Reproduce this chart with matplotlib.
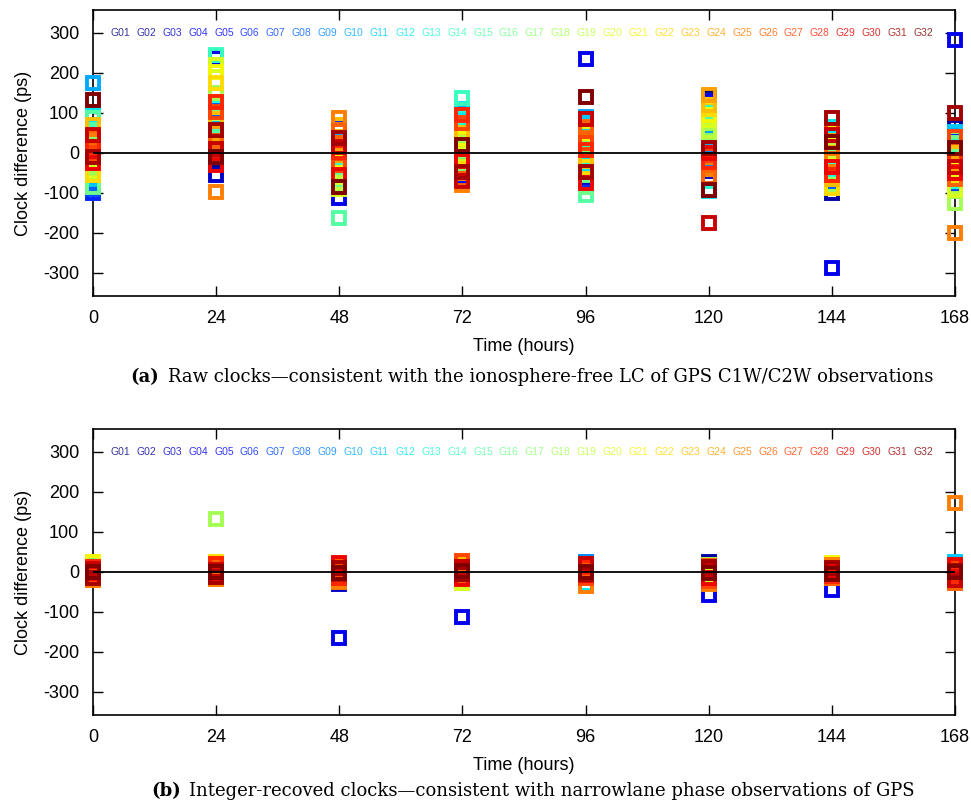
import matplotlib
matplotlib.use('Agg')
import matplotlib.pyplot as plt
import numpy as np

hours = [0, 24, 48, 72, 96, 120, 144, 168]
sats = [f'G{i+1:02d}' for i in range(32)]

# raw clock differences (ps), one list per epoch, G01..G32
raw_000 = [30, -40, 10, -60, 20, -100, -90, -75, 60, 175, -65, 97, -20, 55, 88, -85,
           25, -35, -15, -45, 5, -55, 70, -5, 30, 40, 0, 15, -25, 45, -10, 133]
raw_024 = [-20, 80, -55, 238, 10, 60, -10, 110, 30, 22, 90, 70, 115, 245, 40, 120,
           -5, 150, 100, 220, 203, 175, 85, 50, -97, 30, 103, 128, -30, 10, 58, -10]
raw_048 = [-20, 40, -40, -112, 10, 60, -50, 20, -10, 30, -60, -80, 15, -40, -163, -70,
           5, 40, -75, -90, -20, 20, 70, -5, 88, 55, -30, 2, -55, 15, 37, -85]
raw_072 = [-30, 5, 60, 30, -60, 85, -50, 70, 15, 100, 55, 110, 90, 137, -10, 40,
           -25, 10, 25, -5, 35, -40, 50, -17, -80, -65, 75, 95, -20, -70, -47, 20]
raw_096 = [-55, 20, -60, 235, -30, -70, 60, -40, 10, 90, 75, -25, -10, 30, -105, -85,
           15, -5, 25, -17, 50, -35, -20, 55, 37, 65, 25, 7, -75, 85, -47, 140]
raw_120 = [140, 110, -45, 130, 70, -30, 20, 90, -15, 40, -60, -95, -70, 100, 75, 60,
           30, 45, 55, 83, 95, 110, 120, 145, -40, -60, -5, -22, 0, -175, 12, -92]
raw_144 = [-60, -100, -40, -288, 10, -20, 40, -70, 0, 20, -30, 65, -45, -10, -25, -5,
           -50, -80, 5, -30, 50, -87, -65, 30, -17, 15, 57, -55, -35, 45, 87, 27]
raw_168 = [-30, 65, 20, 282, -60, 30, -80, 5, -40, 45, 53, -20, -70, 15, -10, 25,
           37, -125, -85, -92, -40, -55, 0, -25, -200, -65, 40, -17, -50, -35, 100, 12]

# integer-recovered clock differences (ps)
int_000 = [5, -10, 8, -6, 12, -15, 3, -8, 10, -12, 6, -4, 15, -18, 9, -2,
           14, -9, 4, -14, 25, 11, -7, 2, -20, 7, -11, 13, -3, 8, -16, 0]
int_024 = [-6, 9, -12, 4, 15, -3, 10, -15, 6, -8, 12, -5, 3, -10, 18, 7,
           -14, 133, 2, -7, 11, 24, -4, 8, -18, 14, -9, 20, -2, 5, -12, 0]
int_048 = [10, -8, -30, -165, 6, 14, -5, 9, -12, 3, 16, -10, 7, -3, 12, -15,
           4, 8, -6, 11, -9, 2, 13, -20, -25, 18, 5, -14, 22, -4, 10, -2]
int_072 = [-4, 8, 12, -112, -9, 5, 14, -6, 10, -13, 3, 16, -2, 9, -11, 6,
           15, -8, 1, -28, 11, -5, 19, -15, 7, -10, 28, 4, -18, 13, -6, 2]
int_096 = [7, -5, 10, -12, 3, 14, -8, 6, 25, -3, 11, -30, 5, -9, 16, -14,
           2, 12, -6, 9, -11, 18, -2, 4, -35, 8, -15, 13, -7, 20, -4, -1]
int_120 = [-8, 25, 6, -57, 12, -4, 9, -15, 3, 14, -10, 7, -6, 16, 2, -12,
           10, -5, 18, -9, 4, -18, 11, -2, -30, 15, -22, 8, -14, 5, 12, -3]
int_144 = [6, -9, 12, -45, -3, 10, -6, 14, 2, -12, 8, -4, 16, -10, 5, 11,
           -8, 3, -14, 9, 22, -5, 13, -7, 18, -16, 4, -11, 7, -2, 10, -4]
int_168 = [-5, 10, -8, 5, 14, -12, 6, -3, 11, -15, 25, 8, -6, 12, -10, 3,
           15, -7, 9, -14, 4, -18, 16, -2, 172, -28, 7, -9, 18, -20, 2, -1]

raw = np.array([raw_000, raw_024, raw_048, raw_072, raw_096, raw_120, raw_144, raw_168])
intg = np.array([int_000, int_024, int_048, int_072, int_096, int_120, int_144, int_168])

colors = [plt.cm.jet(i / 31) for i in range(32)]

plt.rcParams['font.family'] = ['Liberation Sans', 'DejaVu Sans']
plt.rcParams['axes.unicode_minus'] = False

figure = plt.figure(figsize=(9.71, 8.05), dpi=100)
ax_a = figure.add_axes([0.0958, 0.6323, 0.8877, 0.3553])
ax_b = figure.add_axes([0.0958, 0.1118, 0.8877, 0.3553])


def draw_panel(ax, values):
    for i in range(32):
        ax.plot(hours, values[:, i], linestyle='none', marker='s', ms=9, mew=2.8,
                mfc='none', mec=colors[i], clip_on=False, zorder=3)
        ax.text(5.3 + 5.05 * i, 300, sats[i], color=colors[i], fontsize=7.5,
                ha='center', va='center', alpha=0.8)
    ax.axhline(0, color='black', lw=1.3, zorder=4)
    ax.set_xlim(0, 168)
    ax.set_ylim(-357.5, 357.5)
    ax.set_xticks(hours)
    ax.set_yticks([-300, -200, -100, 0, 100, 200, 300])
    ax.tick_params(direction='in', length=7, width=1, top=True, right=True,
                   labelsize=13, pad=10)
    ax.set_xlabel('Time (hours)', fontsize=13, labelpad=8)
    ax.set_ylabel('Clock difference (ps)', fontsize=13, labelpad=8)
    for spine in ax.spines.values():
        spine.set_linewidth(1.2)


draw_panel(ax_a, raw)
draw_panel(ax_b, intg)

serif = ['DejaVu Serif']
figure.text(0.134, 0.532, '(a)', fontsize=13, fontweight='bold', family=serif,
            ha='left', va='center')
figure.text(0.173, 0.532,
            'Raw clocks\u2014consistent with the ionosphere-free LC of GPS C1W/C2W observations',
            fontsize=13, family=serif, ha='left', va='center')
figure.text(0.156, 0.0174, '(b)', fontsize=13, fontweight='bold', family=serif,
            ha='left', va='center')
figure.text(0.195, 0.0174,
            'Integer-recoved clocks\u2014consistent with narrowlane phase observations of GPS',
            fontsize=13, family=serif, ha='left', va='center')

plt.savefig('out.png', dpi=100)
